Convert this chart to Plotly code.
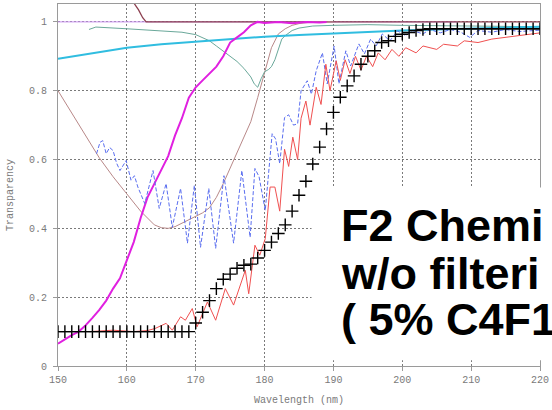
import plotly.graph_objects as go

# ---------------- data ----------------
magenta_x = [150, 151, 152, 153, 154, 155, 156, 157, 158, 159, 160, 161, 162, 163, 164, 165, 166, 167, 168, 169,
             170, 171, 172, 173, 174, 175, 176, 177, 178, 179, 180, 182, 184, 186, 188, 189]
magenta_y = [0.065, 0.078, 0.09, 0.1, 0.118, 0.14, 0.163, 0.19, 0.225, 0.255, 0.31, 0.36, 0.43, 0.49, 0.53, 0.57,
             0.61, 0.67, 0.72, 0.78, 0.81, 0.83, 0.85, 0.87, 0.9, 0.94, 0.955, 0.97, 0.99, 1.0, 0.997, 1.0, 0.996,
             1.0, 0.998, 1.0]

cyan_x = [150, 155, 160, 165, 170, 175, 180, 185, 190, 195, 200, 205, 210, 215, 220]
cyan_y = [0.893, 0.91, 0.925, 0.935, 0.943, 0.95, 0.957, 0.962, 0.967, 0.971, 0.975, 0.978, 0.981, 0.984, 0.986]

teal_x = [154.5, 155.5, 160, 165, 168, 170, 171, 172, 173, 174, 175, 176, 177, 178, 178.5, 179, 179.5, 180,
          180.6, 181, 181.5, 182, 182.5, 183, 184, 185, 187, 190, 195, 200, 205, 210, 215, 220]
teal_y = [0.978, 0.985, 0.98, 0.975, 0.97, 0.963, 0.955, 0.945, 0.93, 0.915, 0.9, 0.885, 0.865, 0.84, 0.82, 0.81,
          0.835, 0.855, 0.862, 0.87, 0.89, 0.92, 0.95, 0.96, 0.975, 0.982, 0.988, 0.99, 0.992, 0.99, 0.99, 0.988,
          0.987, 0.985]

brown_x = [150, 152, 154, 156, 158, 160, 161, 162, 163, 164, 165, 166, 167, 168, 169, 170, 171, 172, 173, 174,
           175, 176, 177, 178, 179, 180, 181, 182, 183, 184, 185, 187, 190]
brown_y = [0.8, 0.735, 0.67, 0.605, 0.55, 0.5, 0.475, 0.45, 0.43, 0.41, 0.402, 0.4, 0.405, 0.415, 0.425, 0.435,
           0.445, 0.46, 0.49, 0.53, 0.575, 0.62, 0.665, 0.71, 0.78, 0.85, 0.925, 0.965, 0.98, 0.99, 0.995, 1.0, 1.0]

maroon_x = [160.5, 161.1, 161.7, 162.3, 162.8, 220]
maroon_y = [1.07, 1.052, 1.035, 1.012, 1.0, 1.0]

violet_x = [150, 208]
violet_y = [1.0, 1.0]

blue_x = [155.6, 156.1, 156.5, 157, 157.5, 158, 158.5, 159, 159.9, 160.6, 161.1, 161.6, 162.6, 163.8, 164.7,
          165.7, 166.6, 167.8, 168.8, 169.8, 170.7, 171.9, 172.9, 174.1, 175.5, 176.7, 177.9, 178.6, 179.2, 180.1,
          181.1, 181.6, 182.2, 182.9, 183.5, 184.2, 184.8, 185.3, 186.2, 186.8, 187.5, 188.4, 189.1, 190.1, 190.8,
          191.8, 192.5, 193.7, 194.5, 195.4, 196.2, 197.1, 198.2, 199.3, 200.5, 201.5, 203, 204, 205.5, 207, 208.5,
          209.8, 211, 213, 215, 217, 220]
blue_y = [0.617, 0.65, 0.655, 0.617, 0.635, 0.626, 0.59, 0.568, 0.597, 0.54, 0.553, 0.52, 0.472, 0.568, 0.458,
          0.53, 0.403, 0.516, 0.357, 0.525, 0.345, 0.516, 0.342, 0.553, 0.357, 0.568, 0.374, 0.574, 0.55, 0.452,
          0.675, 0.66, 0.588, 0.722, 0.73, 0.7, 0.704, 0.8, 0.829, 0.79, 0.858, 0.91, 0.82, 0.93, 0.82,
          0.916, 0.872, 0.936, 0.907, 0.95, 0.93, 0.965, 0.945, 0.974, 0.96, 0.975, 0.965, 0.978, 0.968, 0.978, 0.97,
          0.955, 0.975, 0.97, 0.978, 0.972, 0.976]

red_x = [154.6, 158, 161, 163, 164.1, 165.7, 166.6, 167.8, 168.5, 169.5, 170.2, 171.7, 172.9, 174.3, 175.5, 177.2,
         177.7, 178.6, 179.3, 180.1, 180.8, 181.5, 182.2, 182.9, 183.5, 184.1, 184.8, 185.3, 186, 186.6, 187.5,
         188.2, 188.9, 189.5, 190.4, 191, 191.7, 192.4, 193.2, 194, 194.8, 195.7, 196.5, 197.5, 198.5, 199.5,
         200.5, 202, 203, 205, 206, 208, 209, 211, 213, 215, 217, 220]
red_y = [0.1, 0.104, 0.1, 0.103, 0.109, 0.124, 0.104, 0.143, 0.133, 0.167, 0.114, 0.186, 0.133, 0.225, 0.177, 0.278,
         0.21, 0.351, 0.322, 0.37, 0.52, 0.52, 0.45, 0.63, 0.58, 0.665, 0.6, 0.72, 0.77, 0.7, 0.81,
         0.76, 0.877, 0.8, 0.887, 0.83, 0.89, 0.85, 0.9, 0.86, 0.9, 0.87, 0.91, 0.89, 0.92, 0.9,
         0.925, 0.91, 0.93, 0.92, 0.935, 0.93, 0.945, 0.94, 0.95, 0.955, 0.96, 0.968]

cross_x = list(range(150, 221))
cross_y = [0.1] * 20 + [0.125, 0.156, 0.19, 0.225, 0.252, 0.267, 0.284, 0.293, 0.296, 0.314, 0.336, 0.36, 0.385,
                        0.41, 0.45, 0.496, 0.537, 0.587, 0.636, 0.689, 0.737, 0.781, 0.814, 0.843, 0.877, 0.9,
                        0.916, 0.94, 0.945, 0.958, 0.964, 0.969, 0.975, 0.978] + [0.98] * 17

x_ticks = [150, 160, 170, 180, 190, 200, 210, 220]
y_ticks = [0, 0.2, 0.4, 0.6, 0.8, 1]
y_tick_text = ["0", "0.2", "0.4", "0.6", "0.8", "1"]

x_title = "Wavelength (nm)"
y_title = "Transparency"
overlay_lines = ["F2 Chemi", "w/o filteri", "( 5% C4F1"]

# ---------------- figure ----------------
fig = go.Figure()

def add_line(x, y, color, width, dash="solid"):
    fig.add_trace(go.Scatter(x=x, y=y, mode="lines", line=dict(color=color, width=width, dash=dash),
                             showlegend=False, hoverinfo="skip"))

add_line(violet_x, violet_y, "#c890f0", 1)
add_line(maroon_x, maroon_y, "#8c4050", 1.3)
add_line(brown_x, brown_y, "#b88888", 1)
add_line(teal_x, teal_y, "#6aa89a", 1)
add_line(cyan_x, cyan_y, "#30bde0", 2)
add_line(magenta_x, magenta_y, "#e020e0", 2)
add_line(blue_x, blue_y, "#5a6ef0", 1, dash="4px,2px")
add_line(red_x, red_y, "#f05050", 1)

fig.add_trace(go.Scatter(x=cross_x, y=cross_y, mode="markers",
                         marker=dict(symbol="cross-thin-open", size=9, color="black",
                                     line=dict(color="black", width=1.4)),
                         showlegend=False, hoverinfo="skip"))

mono = "Liberation Mono, Courier New, monospace"
axis_common = dict(showgrid=True, gridcolor="#7a7a7a", griddash="2px,2px", gridwidth=1,
                   showline=True, linecolor="#9a9a9a", linewidth=1, mirror=True,
                   zeroline=False, tickfont=dict(family=mono, size=10, color="#7a7a7a"),
                   tickcolor="#9a9a9a", ticklen=4, ticklabeloverflow="allow")

fig.update_xaxes(range=[150, 220], tickvals=x_ticks, ticks="outside", **axis_common)
fig.update_yaxes(range=[0, 1.052], tickvals=y_ticks, ticktext=y_tick_text, ticks="outside",
                 ticklabelstandoff=4, **axis_common)

# white panel behind the big overlay text
fig.add_shape(type="rect", xref="paper", yref="paper", x0=0.526, x1=1.1, y0=0.016, y1=0.493,
              fillcolor="white", line=dict(width=0), layer="above")

annotations = [
    dict(text=x_title, xref="paper", yref="paper", x=0.5, y=0, yanchor="top", yshift=-27, showarrow=False,
         font=dict(family=mono, size=10, color="#7a7a7a")),
    dict(text=y_title, xref="paper", yref="paper", x=0, y=0.471, xanchor="right", xshift=-40, textangle=-90,
         showarrow=False, font=dict(family=mono, size=10, color="#7a7a7a")),
]
big_y = [0.389, 0.2567, 0.1273]
for line, yy in zip(overlay_lines, big_y):
    annotations.append(dict(text="<b>" + line + "</b>", xref="paper", yref="paper", x=0.5835, y=yy,
                            xanchor="left", yanchor="middle", showarrow=False,
                            font=dict(family="Liberation Sans, Arial, sans-serif", size=45, color="black")))
fig.update_layout(annotations=annotations)

fig.update_layout(width=552, height=410, margin=dict(l=58, r=9, t=3, b=44),
                  plot_bgcolor="white", paper_bgcolor="white", showlegend=False)

fig.write_html("out.html", config={"displayModeBar": False},
               post_script="document.body.style.margin='0';")
